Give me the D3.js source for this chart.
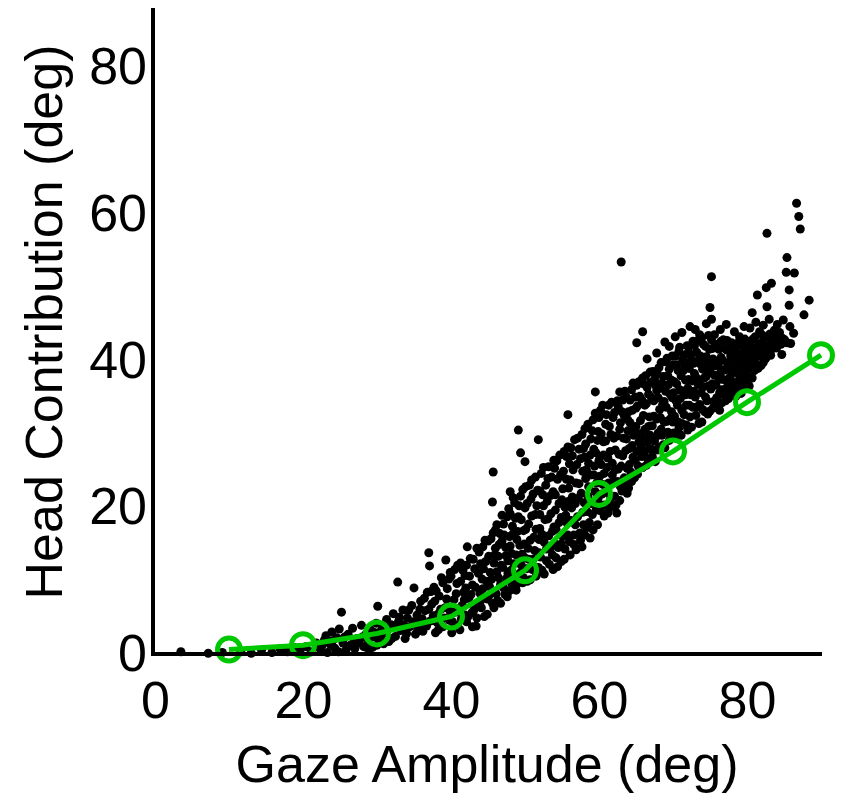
<!DOCTYPE html>
<html>
<head>
<meta charset="utf-8">
<script src="https://cdn.jsdelivr.net/npm/d3@7"></script>
<style>
  body { margin: 0; background: #fff; }
  figure { margin: 0; }
  svg { display: block; font-family: "Liberation Sans", Arial, sans-serif; }
</style>
</head>
<body>
<figure id="gazechart"></figure>
<script>
// tick labels
const xTicks = [0, 20, 40, 60, 80];
const yTicks = [0, 20, 40, 60, 80];

// binned mean head contribution (green line)
const meanGaze = [10, 20, 30, 40, 50, 60, 70, 80, 90];
const meanHead = [0.6, 1.2, 2.8, 5.1, 11.4, 21.8, 27.6, 34.3, 40.7];

// single saccades: [gaze amplitude, head contribution]
const saccades = [
  [3.5,0.3],[7.2,0.1],[9.1,0.2],[11.6,0.3],[13.0,0.1],[14.4,0.5],[15.8,0.2],[16.9,0.7],[17.9,0.3],[18.8,0.9],
  [19.6,0.4],[20.4,1.0],[21.1,0.3],[21.8,1.5],[22.3,0.7],[22.9,1.9],[23.3,0.2],[23.7,1.3],[23.9,3.0],[24.3,0.8],
  [24.6,2.2],[24.9,3.4],[25.2,5.7],[25.4,1.5],[25.8,0.5],[26.1,2.7],[26.4,1.2],[26.7,3.5],[27.0,0.7],[27.3,2.1],
  [27.6,1.5],[27.9,3.9],[28.2,1.0],[28.5,2.7],[28.8,1.7],[29.1,3.3],[29.4,0.9],[29.7,2.3],[29.9,4.2],[30.1,6.5],
  [22.6,1.2],[23.1,2.5],[24.0,1.8],[24.8,0.3],[25.6,2.3],[26.9,1.9],[28.0,2.3],[28.9,0.5],[29.5,3.0],[30.0,1.2],
  [30.4,1.9],[30.7,3.5],[31.0,2.6],[31.3,4.7],[31.6,1.7],[31.9,4.0],[32.2,5.5],[32.5,2.4],[32.8,9.8],[32.9,4.4],
  [33.2,3.2],[33.5,6.0],[33.8,2.1],[34.1,4.9],[34.4,3.7],[34.7,6.6],[35.0,9.0],[35.2,2.7],[35.4,5.3],[35.7,4.2],
  [35.9,7.2],[36.2,3.1],[36.5,5.9],[36.8,8.4],[37.0,13.8],[37.1,12.0],[37.2,4.5],[37.4,6.8],[37.7,9.1],[37.9,2.9],
  [38.2,5.4],[38.4,7.9],[38.7,10.4],[38.9,3.7],[39.2,6.3],[39.3,12.8],[39.5,8.9],[39.8,4.6],[39.9,11.1],
  [30.2,2.9],[30.9,1.4],[31.4,3.3],[32.0,2.1],[32.6,3.8],[33.0,5.0],[33.6,4.0],[34.0,2.8],[34.3,6.0],[34.9,4.4],
  [35.5,3.3],[35.8,6.1],[36.1,4.8],[36.4,7.6],[36.7,3.8],[37.0,6.1],[37.3,8.5],[37.6,5.2],[37.8,7.2],[38.1,4.3],
  [38.0,8.6],[38.3,3.3],[38.6,6.1],[38.9,9.7],[39.1,4.9],[39.4,7.5],[39.7,10.2],[39.9,5.8],
  [40.1,2.9],[40.4,7.4],[40.6,5.7],[40.8,9.6],[40.9,12.1],[41.2,3.3],[41.3,12.4],[41.5,6.6],[41.7,8.4],[41.9,10.7],
  [42.1,4.4],[42.2,14.6],[42.4,7.6],[42.6,13.0],[42.8,5.6],[42.9,9.4],[43.2,11.6],[43.4,3.8],[43.6,6.9],[43.8,13.9],
  [43.9,8.3],[44.2,10.2],[44.3,14.6],[44.5,5.1],[44.7,12.6],[44.9,7.5],[45.0,15.4],[45.2,9.2],[45.3,11.1],[45.6,20.7],
  [45.7,24.8],[45.7,16.5],[45.8,6.3],[45.9,13.5],
  [40.0,10.6],[40.2,4.4],[40.5,11.5],[40.7,8.2],[40.9,3.9],[41.0,6.2],[41.3,9.9],[41.4,4.8],[41.6,11.4],[41.8,7.4],
  [41.9,5.3],[42.0,9.0],[42.1,12.1],[42.3,5.1],[42.5,10.6],[42.7,8.1],[42.9,3.7],[43.0,12.9],[43.1,6.0],[43.3,9.1],
  [43.5,4.9],[43.5,14.4],[43.7,11.0],[43.9,7.0],[44.0,12.3],[44.1,6.3],[44.3,8.9],[44.4,11.6],[44.6,15.5],[44.8,9.9],
  [44.9,5.4],[45.1,13.3],[45.1,7.9],[45.4,15.7],[45.5,10.2],[45.6,6.9],[45.8,12.4],[45.9,8.4],[46.0,14.4],[46.0,16.9],
  [46.1,8.2],[46.2,17.6],[46.4,10.4],[46.5,14.9],[46.7,6.9],[46.8,12.1],[46.9,18.9],[47.1,9.0],[47.2,16.2],[47.4,13.4],
  [47.6,7.8],[47.7,11.0],[47.8,19.8],[48.0,22.1],[48.0,14.7],[48.2,9.6],[48.3,17.4],[48.5,12.3],[48.6,20.6],[48.8,8.7],
  [48.9,15.6],[49.1,30.5],[49.1,18.7],[49.3,11.0],[49.4,27.4],[49.4,21.5],[49.6,13.6],[49.7,9.7],[49.8,16.8],[50.0,26.2],
  [50.0,19.9],[50.1,22.8],
  [46.2,11.2],[46.3,7.3],[46.4,13.3],[46.6,16.4],[46.7,9.5],[46.9,15.4],[47.0,11.8],[47.1,17.7],[47.3,8.1],[47.4,14.5],
  [47.5,10.3],[47.6,18.7],[47.7,12.7],[47.9,16.0],[47.9,8.6],[48.0,19.1],[48.1,11.4],[48.2,13.7],[48.4,16.4],[48.4,21.3],
  [48.6,10.3],[48.7,18.5],[48.8,13.5],[48.9,9.5],[49.0,16.7],[49.2,20.2],[49.3,14.8],[49.5,12.1],[49.5,18.3],[49.7,22.4],
  [49.8,10.4],[49.9,15.0],[50.0,13.1],
  [50.2,11.6],[50.4,14.4],[50.5,17.7],[50.7,10.1],[50.8,21.1],[50.9,23.7],[51.1,12.9],[51.2,15.9],[51.4,19.0],[51.5,10.6],
  [51.7,22.3],[51.8,29.2],[51.9,13.8],[52.0,17.1],[52.2,24.6],[52.3,11.4],[52.5,20.2],[52.6,15.2],[52.8,23.0],[52.9,12.7],
  [53.1,18.4],[53.2,25.5],[53.4,14.3],[53.5,21.6],[53.7,16.7],[53.8,11.5],[53.9,26.4],[54.1,19.6],[54.2,13.1],[54.4,23.8],
  [54.4,11.9],[54.6,17.9],[54.7,27.1],[54.9,15.0],[55.0,21.0],
  [50.1,17.0],[50.3,20.5],[50.3,9.9],[50.5,12.9],[50.6,23.0],[50.7,15.5],[50.9,18.8],[51.0,11.5],[51.1,21.8],[51.3,14.1],
  [51.4,24.1],[51.5,17.0],[51.6,20.2],[51.8,11.8],[51.9,15.6],[52.0,22.2],[52.0,19.0],[52.1,13.2],[52.3,16.3],[52.4,21.7],
  [52.5,25.4],[52.6,10.9],[52.7,18.3],[52.9,14.3],[53.0,20.8],[53.1,23.9],[53.2,16.1],[53.3,12.2],[53.5,19.1],[53.6,24.1],
  [53.7,13.5],[53.8,22.1],[53.9,17.3],[54.0,15.1],[54.0,25.3],[54.1,21.7],[54.2,17.0],[54.3,26.3],[54.5,14.5],[54.6,20.5],
  [54.8,24.4],[54.9,12.6],[54.9,18.6],[55.1,16.0],[55.1,22.5],
  [55.2,24.9],[55.3,12.9],[55.5,18.9],[55.6,26.9],[55.8,32.6],[55.8,16.2],[55.9,22.6],[56.1,13.5],[56.2,28.1],[56.3,19.9],
  [56.5,25.1],[56.6,14.9],[56.8,17.6],[56.9,23.3],[57.1,29.4],[57.2,21.2],[57.4,16.5],[57.5,26.6],[57.7,14.6],[57.8,19.3],
  [57.9,28.0],[58.1,30.7],[58.2,23.9],[58.3,17.2],[58.5,21.5],[58.6,26.0],[58.8,15.8],[58.9,29.3],[59.1,19.0],[59.2,31.9],
  [59.3,24.4],[59.5,35.7],[59.5,22.1],[59.6,27.4],[59.8,17.6],[59.9,30.3],
  [55.3,27.6],[55.4,20.0],[55.4,14.3],[55.6,23.8],[55.7,17.8],[55.8,28.2],[55.9,20.8],[56.0,15.3],[56.0,25.9],[56.1,23.7],
  [56.2,18.2],[56.4,27.0],[56.4,21.4],[56.6,16.2],[56.7,29.2],[56.8,20.5],[56.9,14.2],[57.0,25.8],[57.1,18.7],[57.3,23.2],
  [57.3,27.9],[57.5,15.5],[57.6,21.9],[57.7,29.9],[57.8,24.9],[57.9,17.6],[58.0,20.6],[58.0,26.8],[58.1,16.2],[58.2,28.6],
  [58.3,25.1],[58.4,19.4],[58.5,31.3],[58.6,22.8],[58.7,17.9],[58.8,27.1],[58.9,24.4],[59.0,20.5],[59.1,30.4],[59.2,16.9],
  [59.3,27.9],[59.4,25.6],[59.5,32.8],[59.6,19.6],[59.7,23.3],[59.8,29.1],[59.9,21.3],[60.0,26.4],[60.0,32.2],
  [60.1,20.4],[60.2,33.2],[60.3,25.8],[60.5,23.1],[60.6,28.9],[60.7,18.8],[60.9,31.3],[61.1,22.0],[61.2,26.7],[61.3,33.9],
  [61.5,19.9],[61.6,29.9],[61.8,24.4],[61.9,32.2],[62.1,21.5],[62.2,27.8],[62.4,19.2],[62.5,34.5],[62.6,25.2],[62.8,35.7],
  [62.8,30.6],[62.9,22.8],[63.0,53.4],[63.1,33.0],[63.2,27.0],[63.4,24.0],[63.5,35.8],[63.7,29.3],[63.8,21.9],[63.9,31.9],
  [64.1,25.8],[64.2,34.6],[64.4,23.5],[64.5,28.4],[64.6,36.9],[64.8,30.9],[64.9,26.4],[65.0,33.5],
  [60.1,24.2],[60.2,19.5],[60.3,30.0],[60.4,21.8],[60.5,33.9],[60.6,27.1],[60.7,24.6],[60.8,20.3],[60.9,29.0],[61.0,32.6],
  [61.1,25.4],[61.2,19.2],[61.3,23.3],[61.4,31.0],[61.5,27.6],[61.6,21.3],[61.7,34.3],[61.8,26.0],[61.9,20.2],[62.0,29.4],
  [62.0,23.5],[62.1,32.9],[62.2,25.1],[62.3,20.3],[62.4,29.7],[62.5,23.5],[62.6,33.7],[62.7,27.2],[62.8,20.9],[62.9,31.5],
  [63.0,25.6],[63.1,22.2],[63.2,34.6],[63.3,29.4],[63.4,32.5],[63.5,23.1],[63.6,27.7],[63.7,35.0],[63.8,25.3],[63.9,30.4],
  [64.0,22.6],[64.0,33.0],[64.1,28.0],[64.2,31.5],[64.3,24.8],[64.4,36.0],[64.5,33.2],[64.6,26.8],[64.7,29.8],[64.8,24.0],
  [64.9,35.0],[65.0,31.0],
  [65.1,36.6],[65.1,42.4],[65.2,24.5],[65.4,28.9],[65.5,35.1],[65.6,31.8],[65.8,26.9],[65.9,43.9],[65.9,37.6],[66.1,29.5],
  [66.2,33.9],[66.4,25.7],[66.5,36.3],[66.7,31.0],[66.8,28.0],[66.9,38.4],[67.1,34.9],[67.2,26.9],[67.4,32.4],[67.5,37.4],
  [67.7,29.6],[67.8,35.9],[67.9,27.8],[68.1,39.0],[68.2,33.3],[68.4,30.6],[68.5,36.9],[68.7,28.5],[68.8,34.4],[68.9,42.5],
  [69.0,39.8],[69.2,31.7],[69.3,37.9],[69.5,29.1],[69.6,35.4],[69.8,33.0],[69.9,40.6],
  [65.1,27.6],[65.2,33.8],[65.3,25.6],[65.4,37.1],[65.5,30.0],[65.7,28.2],[65.8,34.6],[65.9,25.4],[66.0,32.5],[66.0,36.8],
  [66.1,27.3],[66.2,30.6],[66.3,37.9],[66.4,34.1],[66.5,28.9],[66.6,26.6],[66.7,35.4],[66.8,32.3],[66.9,29.8],[67.0,37.0],
  [67.1,27.9],[67.2,31.1],[67.3,38.5],[67.4,34.5],[67.5,29.0],[67.6,26.2],[67.7,36.5],[67.8,32.0],[67.9,38.1],[68.0,30.1],
  [68.0,34.9],[68.1,28.2],[68.2,36.2],[68.3,32.2],[68.4,39.7],[68.5,29.8],[68.6,34.0],[68.7,37.8],[68.8,31.6],[68.9,28.1],
  [69.0,35.8],[69.1,33.6],[69.2,40.3],[69.3,30.2],[69.4,36.7],[69.5,38.8],[69.6,32.0],[69.7,29.7],[69.8,37.3],[69.9,34.9],
  [70.0,39.4],[70.0,31.6],
  [70.1,30.1],[70.2,37.1],[70.4,34.5],[70.5,39.4],[70.7,31.6],[70.8,41.2],[70.9,36.0],[71.1,29.8],[71.2,33.2],[71.4,38.6],
  [71.5,40.7],[71.7,35.3],[71.8,31.2],[71.9,42.0],[72.1,37.4],[72.2,33.9],[72.4,39.9],[72.5,30.9],[72.7,42.6],[72.8,35.8],
  [72.9,38.2],[73.1,32.5],[73.2,41.1],[73.4,36.7],[73.6,43.5],[73.6,34.0],[73.8,39.4],[73.9,31.6],[74.1,42.2],[74.2,37.6],
  [74.4,35.0],[74.5,40.5],[74.7,32.7],[74.8,43.4],[74.9,38.6],
  [70.1,35.6],[70.2,32.4],[70.3,40.6],[70.4,29.4],[70.5,36.8],[70.6,33.9],[70.7,38.6],[70.8,30.8],[70.9,41.8],[71.0,34.8],
  [71.1,37.9],[71.2,31.4],[71.3,40.1],[71.4,35.8],[71.5,32.6],[71.6,39.3],[71.7,37.3],[71.8,33.9],[71.9,40.9],[72.0,30.5],
  [72.0,36.2],[72.1,41.8],[72.2,38.9],[72.3,32.3],[72.4,35.3],[72.5,40.8],[72.6,37.2],[72.7,33.6],[72.8,39.6],[72.9,42.0],
  [73.0,35.0],[73.1,37.7],[73.2,33.6],[73.3,39.9],[73.4,42.7],[73.5,31.4],[73.6,37.3],[73.7,40.6],[73.8,35.6],[73.9,43.1],
  [74.0,33.3],[74.0,38.8],[74.1,36.4],[74.2,40.3],[74.3,33.0],[74.4,41.9],[74.5,37.8],[74.6,34.5],[74.7,39.6],[74.8,36.5],
  [74.9,41.5],
  [75.0,47.2],[75.1,36.1],[75.2,51.4],[75.2,45.6],[75.3,41.6],[75.4,33.5],[75.6,43.5],[75.7,39.3],[75.9,34.9],[76.0,42.2],
  [76.2,37.4],[76.3,33.2],[76.5,40.4],[76.6,36.0],[76.8,42.8],[76.9,38.7],[77.1,34.5],[77.3,41.4],[77.4,37.0],[77.6,39.8],
  [77.7,35.7],[77.9,42.4],[78.1,38.3],[78.2,36.4],[78.4,40.9],[78.5,35.1],[78.7,42.0],[78.8,39.2],[79.0,43.2],[79.1,36.9],
  [79.3,40.4],[79.4,38.0],[79.6,41.8],[79.8,36.2],[79.9,39.6],
  [75.0,33.1],[75.1,39.0],[75.2,42.8],[75.3,36.8],[75.4,40.2],[75.5,34.4],[75.6,38.0],[75.7,41.9],[75.8,36.6],[75.9,39.8],
  [76.0,34.0],[76.1,39.3],[76.2,41.5],[76.3,35.6],[76.4,38.3],[76.5,42.6],[76.6,34.2],[76.7,40.0],[76.8,37.4],[76.9,35.3],
  [77.0,41.6],[77.1,38.7],[77.2,36.2],[77.3,42.7],[77.4,39.4],[77.5,34.8],[77.6,41.5],[77.7,37.7],[77.8,40.6],[77.9,36.3],
  [78.0,38.9],[78.1,42.0],[78.2,40.0],[78.3,37.0],[78.4,35.2],[78.5,41.3],[78.6,38.6],[78.7,36.2],[78.8,40.9],[78.9,42.5],
  [79.0,37.8],[79.1,39.9],[79.2,35.5],[79.3,42.1],[79.4,40.9],[79.5,37.1],[79.6,39.1],[79.7,42.9],[79.8,38.3],[79.9,40.7],
  [80.1,42.3],[80.3,37.7],[80.4,40.8],[80.6,38.9],[80.7,46.5],[80.8,42.9],[81.0,39.8],[81.1,41.7],[81.4,48.9],[81.5,38.9],
  [81.7,43.9],[81.8,40.6],[82.0,42.4],[82.2,39.7],[82.4,41.5],[82.6,49.9],[82.7,47.3],[82.7,57.3],[82.8,43.3],[83.0,41.2],
  [83.3,50.5],[83.4,42.6],[83.7,44.1],[83.9,41.8],[84.2,43.0],[84.6,42.2],
  [80.0,36.6],[80.1,39.5],[80.2,41.5],[80.3,36.5],[80.5,42.6],[80.6,40.0],[80.7,37.6],[80.9,41.2],[81.0,38.6],[81.1,43.2],
  [81.3,40.5],[81.4,39.1],[81.6,42.2],[81.7,41.1],[81.9,39.3],[82.0,43.5],[82.1,41.0],[82.3,42.9],[82.5,40.2],[82.6,41.9],
  [82.9,42.0],[83.1,43.6],[83.2,40.7],[83.5,41.6],[83.6,43.2],[83.8,42.6],[84.0,41.7],[84.3,42.4],[84.4,43.8],[84.8,43.0],
  [85.1,42.8],
  [66.5,40.2],[67.8,41.0],[69.5,41.9],[70.3,43.2],[71.2,43.8],[72.3,44.6],[73.0,44.2],[74.5,45.0],[76.4,44.2],[77.2,44.9],
  [78.3,43.9],[79.6,44.6],[80.4,44.4],[81.2,45.2],[82.2,44.8],[83.0,45.6],[84.1,44.9],[84.9,45.5],[85.8,44.6],[86.3,43.7],
  [84.7,40.8],[85.9,42.3],
  [85.3,52.0],[85.4,54.0],[85.4,42.4],[85.7,49.6],[85.7,47.5],[86.4,51.9],[86.7,61.4],[87.0,59.6],[87.2,57.9],[87.7,46.2],
  [88.4,48.2]
];

class GazeHeadChart {

  constructor() {
    this.width = 843;
    this.height = 794;
    this.green = "#00c800";
    this.fontSize = 52;
  }

  init() {
    this.svg = d3.select("figure#gazechart").append("svg")
      .attr("width", this.width)
      .attr("height", this.height);
    this.x = d3.scaleLinear().domain([0, 90]).range([155, 821]);
    this.y = d3.scaleLinear().domain([0, 88]).range([654, 8]);
    this.drawPoints();
    this.drawMeans();
    this.drawAxes();
  }

  drawPoints() {
    this.svg.append("g")
      .selectAll("circle")
      .data(saccades)
      .join("circle")
      .attr("cx", d => this.x(d[0]))
      .attr("cy", d => this.y(d[1]))
      .attr("r", 4.5)
      .attr("fill", "#000");
  }

  drawMeans() {
    const means = meanGaze.map((g, i) => [g, meanHead[i]]);
    this.svg.append("path")
      .datum(means)
      .attr("fill", "none")
      .attr("stroke", this.green)
      .attr("stroke-width", 5)
      .attr("stroke-linejoin", "round")
      .attr("d", d3.line()
        .x(d => this.x(d[0]))
        .y(d => this.y(d[1])));

    this.svg.append("g")
      .selectAll("circle")
      .data(means)
      .join("circle")
      .attr("cx", d => this.x(d[0]))
      .attr("cy", d => this.y(d[1]))
      .attr("r", 11.5)
      .attr("fill", "none")
      .attr("stroke", this.green)
      .attr("stroke-width", 5);
  }

  drawAxes() {
    const xAxis = this.svg.append("g")
      .attr("transform", "translate(0,654)")
      .call(d3.axisBottom(this.x)
        .tickValues(xTicks)
        .tickSize(0)
        .tickPadding(27));
    xAxis.select(".domain")
      .attr("stroke", "#000")
      .attr("stroke-width", 4)
      .attr("d", "M151,0H822");
    xAxis.selectAll(".tick text")
      .attr("font-size", this.fontSize)
      .attr("font-family", "Liberation Sans, Arial, sans-serif")
      .attr("fill", "#000");

    const yAxis = this.svg.append("g")
      .attr("transform", "translate(153,0)")
      .call(d3.axisLeft(this.y)
        .tickValues(yTicks)
        .tickSize(0)
        .tickPadding(6));
    yAxis.select(".domain")
      .attr("stroke", "#000")
      .attr("stroke-width", 4)
      .attr("d", "M0,656V8");
    yAxis.selectAll(".tick text")
      .attr("font-size", this.fontSize)
      .attr("font-family", "Liberation Sans, Arial, sans-serif")
      .attr("fill", "#000");

    this.svg.append("text")
      .attr("x", 487)
      .attr("y", 782)
      .attr("text-anchor", "middle")
      .attr("font-size", this.fontSize)
      .text("Gaze Amplitude (deg)");

    this.svg.append("text")
      .attr("transform", "translate(62,322) rotate(-90)")
      .attr("text-anchor", "middle")
      .attr("font-size", this.fontSize)
      .text("Head Contribution (deg)");
  }
}

const chart = new GazeHeadChart();
chart.init();
</script>
</body>
</html>
